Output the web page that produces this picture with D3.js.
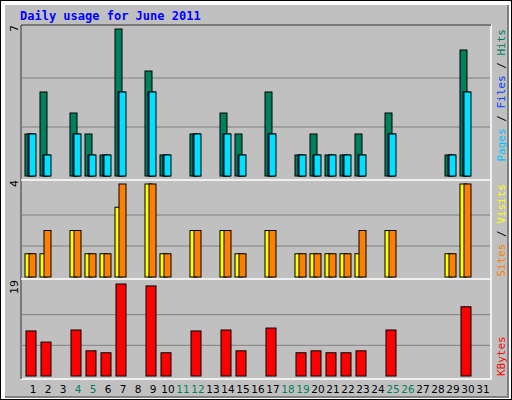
<!DOCTYPE html><html><head><script src="https://cdn.jsdelivr.net/npm/d3@7"></script>
<style>body{margin:0;background:#fff}</style></head><body><svg id="c" width="512" height="400"></svg>
<script>
const days=d3.range(1,32);
const weekend=[4,5,11,12,18,19,25,26];
const hits=[2,4,0,3,2,1,7,0,5,1,0,2,0,3,2,0,4,0,1,2,1,1,2,0,3,0,0,0,1,6,0];
const files=[2,1,0,2,1,1,4,0,4,1,0,2,0,2,1,0,2,0,1,1,1,1,1,0,2,0,0,0,1,4,0];
const pages=[2,1,0,2,1,1,4,0,4,1,0,2,0,2,1,0,2,0,1,1,1,1,1,0,2,0,0,0,1,4,0];
const visits=[1,1,0,2,1,1,3,0,4,1,0,2,0,2,1,0,2,0,1,1,1,1,1,0,2,0,0,0,1,4,0];
const sites=[1,2,0,2,1,1,4,0,4,1,0,2,0,2,1,0,2,0,1,1,1,1,2,0,2,0,0,0,1,4,0];
const kbytes=[9.3,7.0,0,9.5,5.2,4.8,19,0,18.6,4.8,0,9.3,0,9.5,5.2,0,9.9,0,4.8,5.2,4.8,4.8,5.2,0,9.5,0,0,0,0,14.3,0];
const svg=d3.select("#c");
svg.append("rect").attr("width",512).attr("height",400).attr("fill","#000");
svg.append("rect").attr("x",1).attr("y",1).attr("width",510).attr("height",398).attr("fill","#fff");
svg.append("rect").attr("x",5).attr("y",5).attr("width",504).attr("height",393).attr("fill","#808080");
svg.append("rect").attr("x",5).attr("y",5).attr("width",502).attr("height",391).attr("fill","#c0c0c0");
svg.append("text").attr("x",20).attr("y",20).text("Daily usage for June 2011").attr("fill","#0000ff")
 .attr("font-family","DejaVu Sans Mono").attr("font-weight","bold").attr("font-size",12);
const x=d3.scaleLinear().domain([1,31]).range([25,475]);
svg.append("rect").attr("x",21).attr("y",25).attr("width",470).attr("height",354).attr("fill","none").attr("stroke","#fff").attr("stroke-width",1.5);
svg.append("line").attr("x1",21).attr("x2",21).attr("y1",25).attr("y2",379).attr("stroke","#000");
svg.append("line").attr("x1",21).attr("x2",491).attr("y1",25).attr("y2",25).attr("stroke","#000");
[180,279].forEach(y=>svg.append("line").attr("x1",21).attr("x2",491).attr("y1",y).attr("y2",y).attr("stroke","#fff").attr("stroke-width",1.5));
const panels=[
 {y0:176,y1:29,max:7,label:"7",series:[[hits,0,"#00805c"],[files,3,"#0040ff"],[pages,4,"#00e0ff"]],
  legend:[["Pages","#00c0ff"],[" / ","#000"],["Files","#0040ff"],[" / ","#000"],["Hits","#00805c"]],ly:29,anchor:"end"},
 {y0:277,y1:184,max:4,label:"4",series:[[visits,0,"#ffff00"],[sites,4,"#ff8000"]],
  legend:[["Sites","#ff8000"],[" / ","#000"],["Visits","#ffff00"]],ly:184,anchor:"end"},
 {y0:376,y1:284,max:19,label:"19",series:[[kbytes,1,"#ff0000"]],wide:true,legend:[["KBytes","#ff0000"]],ly:376,anchor:"start"}
];
panels.forEach(p=>{
 const y=d3.scaleLinear().domain([0,p.max]).range([p.y0,p.y1]);
 [1,2].forEach(i=>{const gy=p.y0-(p.y0-p.y1)*i/3;
  svg.append("line").attr("x1",22).attr("x2",490).attr("y1",gy).attr("y2",gy).attr("stroke","#808080").attr("stroke-width",1);});
 p.series.forEach(([vals,off,col])=>{
  svg.append("g").selectAll("rect").data(days.filter((d,i)=>vals[i]>0)).join("rect")
   .attr("x",d=>x(d)+off).attr("width",p.wide?10:7)
   .attr("y",d=>y(vals[d-1])).attr("height",d=>p.y0-y(vals[d-1]))
   .attr("fill",col).attr("stroke","#000").attr("stroke-width",1);
 });
 svg.append("text").attr("transform",`translate(18,${p.y1-4}) rotate(-90)`).text(p.label)
  .attr("text-anchor","end").attr("font-family","DejaVu Sans").attr("font-size",11).attr("fill","#000");
 const t=svg.append("text").attr("transform",`translate(505,${p.ly}) rotate(-90)`)
  .attr("font-family","DejaVu Sans Mono").attr("font-size",11).attr("text-anchor",p.anchor);
 p.legend.forEach(([s,c])=>t.append("tspan").text(s).attr("fill",c));
});
svg.append("g").selectAll("text").data(days).join("text")
 .attr("x",d=>x(d)+8).attr("y",393).attr("text-anchor","middle").text(d=>d)
 .attr("font-family","DejaVu Sans").attr("font-size",10.5)
 .attr("fill",d=>weekend.includes(d)?"#00805c":"#000");
</script></body></html>
